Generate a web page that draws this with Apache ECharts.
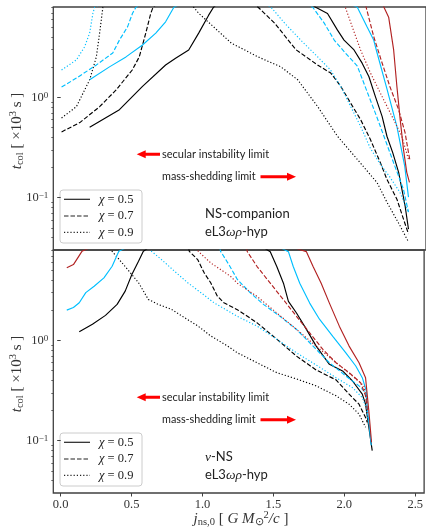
<!DOCTYPE html>
<html><head><meta charset="utf-8">
<script src="https://cdn.jsdelivr.net/npm/echarts@6/dist/echarts.min.js"></script>
<style>html,body{margin:0;padding:0;background:#fff}#c{width:426px;height:528px}</style>
</head><body><div id="c"></div>
<script>
// ---- axis settings ----
const xTicks = [0, 0.5, 1.0, 1.5, 2.0, 2.5];
const yMajor = [0.1, 1];
const yMinor = [0.04,0.05,0.06,0.07,0.08,0.09,0.2,0.3,0.4,0.5,0.6,0.7,0.8,0.9,2,3,4,5,6,7,8];
const X_MIN = -0.052, X_MAX = 2.563, Y_MIN = 0.03, Y_MAX = 8;

// ---- top panel: NS-companion ----
const topBlackSolid  = [[0.203,0.504],[0.412,0.755],[0.574,1.29],[0.736,2.11],[0.806,2.46],[0.898,2.98],[0.968,4.39],[1.038,6.63],[1.072,7.96],[1.4,20],[1.789,7.96],[1.872,6.89],[1.942,4.70],[1.988,3.74],[2.058,2.98],[2.115,2.20],[2.162,1.62],[2.208,1.02],[2.255,0.648],[2.289,0.41],[2.33,0.28],[2.371,0.179],[2.416,0.0834],[2.44,0.0485]];
const topBlackDashed = [[0.006,0.453],[0.134,0.561],[0.273,0.809],[0.389,1.19],[0.502,1.88],[0.551,2.54],[0.597,4.39],[0.632,6.93],[0.648,7.96],[1.0,20],[1.385,7.96],[1.501,5.52],[1.65,3.0],[1.802,2.11],[1.895,1.75],[1.965,1.29],[2.034,0.880],[2.104,0.601],[2.173,0.380],[2.243,0.223],[2.289,0.152],[2.359,0.0964],[2.405,0.061],[2.44,0.0433]];
const topBlackDotted = [[0.006,0.624],[0.11,0.809],[0.203,1.50],[0.25,2.54],[0.273,4.39],[0.296,7.96],[0.6,20],[0.933,7.96],[0.968,6.93],[1.197,3.49],[1.385,2.54],[1.545,2.02],[1.663,1.50],[1.802,0.814],[1.942,0.41],[2.081,0.241],[2.22,0.141],[2.289,0.09],[2.382,0.052],[2.44,0.0361]];
const topCyanSolid   = [[0.203,1.50],[0.342,2.02],[0.458,2.54],[0.574,3.34],[0.667,4.39],[0.736,5.69],[0.794,7.96],[1.4,20],[2.081,7.96],[2.15,5.04],[2.196,3.74],[2.22,2.78],[2.289,1.22],[2.359,0.512],[2.414,0.205],[2.44,0.101]];
const topCyanDashed  = [[0.006,1.27],[0.11,1.56],[0.25,2.11],[0.365,2.78],[0.412,3.74],[0.469,5.07],[0.504,6.93],[0.528,7.96],[1.1,20],[1.768,7.96],[1.849,5.52],[1.919,3.74],[1.997,2.78],[2.081,2.06],[2.15,1.14],[2.22,0.628],[2.289,0.339],[2.345,0.205],[2.405,0.121],[2.44,0.0716]];
const topCyanDotted  = [[0.006,1.88],[0.11,2.37],[0.168,3.21],[0.203,4.39],[0.226,6.93],[0.238,7.96],[0.8,20],[1.476,7.96],[1.571,5.52],[1.684,3.74],[1.802,2.55],[1.893,1.88],[1.965,1.29],[2.034,0.814],[2.104,0.515],[2.173,0.31],[2.243,0.215],[2.31,0.16],[2.38,0.113],[2.44,0.0716]];
const topRedSolid    = [[2.2,20],[2.268,7.96],[2.301,6.33],[2.336,2.98],[2.359,1.28],[2.382,0.601],[2.405,0.303],[2.428,0.179],[2.447,0.142]];
const topRedDashed   = [[2.08,20],[2.143,7.96],[2.197,4.01],[2.255,2.21],[2.31,1.28],[2.371,0.755],[2.416,0.446],[2.44,0.282],[2.449,0.241]];
const topRedDotted   = [[1.93,20],[1.997,7.96],[2.046,5.04],[2.104,2.98],[2.173,1.76],[2.255,1.02],[2.336,0.601],[2.394,0.407],[2.44,0.241]];

// ---- bottom panel: nu-NS ----
const botBlackSolid  = [[0.131,1.22],[0.224,1.45],[0.316,1.78],[0.398,2.29],[0.455,3.11],[0.502,4.55],[0.549,6.17],[0.583,7.76],[1.0,20],[1.478,7.7],[1.524,5.47],[1.571,3.73],[1.606,2.46],[1.663,1.88],[1.733,1.29],[1.802,0.878],[1.895,0.578],[1.988,0.496],[2.058,0.394],[2.127,0.291],[2.15,0.231],[2.173,0.136],[2.197,0.0796]];
const botBlackDashed = [[0.85,20],[0.907,7.76],[0.966,6.42],[1.012,4.73],[1.058,3.77],[1.105,2.77],[1.151,2.38],[1.246,2.03],[1.385,1.50],[1.524,1.03],[1.663,0.698],[1.802,0.507],[1.942,0.404],[2.034,0.291],[2.104,0.231],[2.15,0.170],[2.162,0.152]];
const botBlackDotted = [[0.3,20],[0.363,7.76],[0.433,5.95],[0.502,4.55],[0.549,3.77],[0.618,2.57],[0.688,2.29],[0.78,2.05],[0.873,1.69],[0.966,1.40],[1.058,1.11],[1.175,0.884],[1.246,0.753],[1.385,0.599],[1.524,0.477],[1.663,0.413],[1.802,0.352],[1.942,0.280],[2.034,0.231],[2.104,0.184],[2.15,0.136]];
const botCyanSolid   = [[0.043,2.01],[0.09,2.13],[0.131,2.38],[0.177,3.00],[0.236,3.48],[0.305,4.22],[0.363,5.51],[0.41,7.76],[1.0,20],[1.606,7.7],[1.64,5.47],[1.686,3.73],[1.756,2.36],[1.825,1.63],[1.919,1.10],[2.011,0.753],[2.081,0.556],[2.127,0.425],[2.155,0.314],[2.162,0.214],[2.19,0.09]];
const botCyanDashed  = [[1.06,20],[1.128,7.76],[1.19,5.6],[1.246,4.06],[1.339,2.97],[1.432,2.28],[1.547,1.74],[1.663,1.29],[1.78,0.878],[1.895,0.599],[2.011,0.442],[2.104,0.352],[2.15,0.302],[2.164,0.2]];
const botCyanDotted  = [[0.58,20],[0.641,7.76],[0.711,6.42],[0.803,4.91],[0.896,3.77],[0.989,3.00],[1.081,2.38],[1.246,1.74],[1.385,1.39],[1.524,1.03],[1.663,0.753],[1.802,0.568],[1.942,0.425],[2.058,0.338],[2.127,0.269],[2.155,0.214],[2.168,0.158]];
const botRedSolid    = [[0.043,5.31],[0.09,5.72],[0.15,7.76],[0.8,20],[1.733,7.7],[1.78,5.47],[1.837,3.73],[1.895,2.36],[1.965,1.39],[2.034,0.878],[2.104,0.599],[2.15,0.425],[2.173,0.199],[2.192,0.0962]];
const botRedDashed   = [[1.25,20],[1.316,7.7],[1.385,5.47],[1.478,3.73],[1.571,2.55],[1.663,1.74],[1.756,1.19],[1.849,0.814],[1.942,0.599],[2.034,0.477],[2.115,0.379],[2.15,0.280],[2.165,0.19]];
const botRedDotted   = [[0.9,20],[0.97,7.76],[1.058,5.95],[1.197,4.38],[1.246,3.73],[1.385,2.75],[1.524,1.88],[1.663,1.29],[1.802,0.878],[1.942,0.599],[2.058,0.442],[2.138,0.352],[2.162,0.240]];

const BLACK = '#000000', CYAN = '#00bfff', RED = '#b22222';
const DASH = [4.5, 2], DOT = [1.2, 2];

function line(data, color, type, panel) {
  return {
    type: 'line', data: data, xAxisIndex: panel, yAxisIndex: panel * 2,
    showSymbol: false, symbol: 'none', silent: true, clip: true,
    lineStyle: { color: color, width: 1.15, type: type }
  };
}

const series = [
  line(topBlackSolid, BLACK, 'solid', 0), line(topBlackDashed, BLACK, DASH, 0), line(topBlackDotted, BLACK, DOT, 0),
  line(topCyanSolid, CYAN, 'solid', 0), line(topCyanDashed, CYAN, DASH, 0), line(topCyanDotted, CYAN, DOT, 0),
  line(topRedSolid, RED, 'solid', 0), line(topRedDashed, RED, DASH, 0), line(topRedDotted, RED, DOT, 0),
  line(botBlackSolid, BLACK, 'solid', 1), line(botBlackDashed, BLACK, DASH, 1), line(botBlackDotted, BLACK, DOT, 1),
  line(botCyanSolid, CYAN, 'solid', 1), line(botCyanDashed, CYAN, DASH, 1), line(botCyanDotted, CYAN, DOT, 1),
  line(botRedSolid, RED, 'solid', 1), line(botRedDashed, RED, DASH, 1), line(botRedDotted, RED, DOT, 1)
];

const AX = '#404040';
const SERIF = 'Liberation Serif';
const SANS = 'Lato';
const GL = 53.3, GW = 376, GH = 243, GT = [7, 250];

function xAxisFor(i) {
  return {
    gridIndex: i, type: 'value', min: X_MIN, max: X_MAX,
    axisLine: { show: false }, splitLine: { show: false },
    axisTick: { show: i === 1, customValues: xTicks, length: 3.5, lineStyle: { color: AX, width: 1 } },
    axisLabel: { show: i === 1, customValues: xTicks, formatter: v => v.toFixed(1), fontFamily: SERIF, fontSize: 12.5, color: '#333', margin: 5 }
  };
}
function yAxesFor(i) {
  return [{
    gridIndex: i, type: 'log', logBase: 10, min: Y_MIN, max: Y_MAX,
    axisLine: { show: false }, splitLine: { show: false }, minorTick: { show: false },
    axisTick: { show: true, customValues: yMajor, length: 3.5, lineStyle: { color: AX, width: 1 } },
    axisLabel: {
      customValues: yMajor, margin: 5, color: '#333',
      formatter: v => (Math.round(Math.log10(v)) === 0 ? '{b|10}{e|0}' : '{b|10}{e|−1}'),
      rich: {
        b: { fontFamily: SERIF, fontSize: 12.5, lineHeight: 13, verticalAlign: 'bottom', color: '#333' },
        e: { fontFamily: SERIF, fontSize: 9, lineHeight: 9, verticalAlign: 'top', padding: [0, 0, 8, 0], color: '#333' }
      }
    }
  }, {
    gridIndex: i, type: 'log', logBase: 10, min: Y_MIN, max: Y_MAX, position: 'left',
    axisLine: { show: false }, splitLine: { show: false }, axisLabel: { show: false },
    axisTick: { show: true, customValues: yMinor, length: 2, lineStyle: { color: AX, width: 0.8 } }
  }];
}

const mathRich = {
  it: { fontFamily: SERIF, fontStyle: 'italic', fontSize: 15, lineHeight: 18, verticalAlign: 'middle', fill: '#333' },
  n: { fontFamily: SERIF, fontSize: 15, lineHeight: 18, verticalAlign: 'middle', fill: '#333' },
  sub: { fontFamily: SERIF, fontSize: 10.5, lineHeight: 10, verticalAlign: 'bottom', fill: '#333' },
  sup: { fontFamily: SERIF, fontSize: 10.5, lineHeight: 10, verticalAlign: 'top', fill: '#333' }
};

const graphic = [];
function ytitle(cy) {
  graphic.push({
    type: 'text', x: 17, y: cy, rotation: Math.PI / 2,
    style: { text: '{it|t}{sub|col}{n| [ ×10}{sup|3}{n| s ]}', align: 'center', verticalAlign: 'middle', fill: '#333', rich: mathRich }
  });
}
function arrowL(tipX, tailX, y) {
  graphic.push({ type: 'polygon', shape: { points: [[tailX, y - 1.5], [tipX + 9, y - 1.5], [tipX + 9, y - 4], [tipX, y], [tipX + 9, y + 4], [tipX + 9, y + 1.5], [tailX, y + 1.5]] }, style: { fill: '#ff0000' } });
}
function arrowR(tailX, tipX, y) {
  graphic.push({ type: 'polygon', shape: { points: [[tailX, y - 1.5], [tipX - 9, y - 1.5], [tipX - 9, y - 4], [tipX, y], [tipX - 9, y + 4], [tipX - 9, y + 1.5], [tailX, y + 1.5]] }, style: { fill: '#ff0000' } });
}
function txt(x, y, s, font, size, align) {
  graphic.push({ type: 'text', x: x, y: y, style: { text: s, fontFamily: font, fontSize: size, fill: '#222', align: align || 'left', verticalAlign: 'middle' } });
}
function richTxt(x, y, s, rich) {
  graphic.push({ type: 'text', x: x, y: y, style: { text: s, rich: rich, align: 'left', verticalAlign: 'middle', fill: '#222' } });
}
const labelRich = {
  s: { fontFamily: SANS, fontSize: 13, fill: '#222', lineHeight: 16 },
  m: { fontFamily: SERIF, fontStyle: 'italic', fontSize: 13.5, fill: '#222', lineHeight: 16 }
};
function legend(off) {
  graphic.push({ type: 'rect', shape: { x: 60, y: 190 + off, width: 82, height: 53, r: 3 }, style: { fill: 'rgba(255,255,255,0.85)', stroke: '#cccccc', lineWidth: 1 } });
  const rows = [[199.3, null, '0.5'], [216, DASH, '0.7'], [232.3, DOT, '0.9']];
  rows.forEach(r => {
    graphic.push({ type: 'line', shape: { x1: 64, y1: r[0] + off, x2: 90, y2: r[0] + off }, style: { stroke: '#222', lineWidth: 1.2, lineDash: r[1] } });
    richTxt(99, r[0] + off, '{m|χ}{n| = ' + r[2] + '}', {
      m: { fontFamily: SERIF, fontStyle: 'italic', fontSize: 12.5, fill: '#222' },
      n: { fontFamily: SERIF, fontSize: 12.5, fill: '#222' }
    });
  });
}
[0, 243].forEach((off, i) => {
  ytitle(i === 0 ? 131 : 374);
  arrowL(136.7, 160, 154.3 + off);
  txt(162, 154.3 + off, 'secular instability limit', SANS, 11);
  txt(162, 176.7 + off, 'mass-shedding limit', SANS, 10.8);
  arrowR(260.5, 296, 176.7 + off);
  legend(off);
});
richTxt(205, 214, '{s|NS-companion}', labelRich);
richTxt(205, 232, '{s|eL3}{m|ωρ}{s|-hyp}', labelRich);
richTxt(205, 457, '{m|ν}{s|-NS}', labelRich);
richTxt(205, 475, '{s|eL3}{m|ωρ}{s|-hyp}', labelRich);
graphic.push({
  type: 'text', x: 241, y: 519,
  style: { text: '{it|j}{sub|ns,0}{n| [ }{it|G M}{sub|⊙}{sup|2}{it|/c}{n| ]}', align: 'center', verticalAlign: 'middle', fill: '#333', rich: mathRich }
});

const chart = echarts.init(document.getElementById('c'), null, { renderer: 'canvas' });
chart.setOption({
  animation: false,
  backgroundColor: '#fff',
  grid: GT.map(t => ({ left: GL, top: t, width: GW, height: GH, show: true, borderColor: AX, borderWidth: 1.3, backgroundColor: 'transparent' })),
  xAxis: [xAxisFor(0), xAxisFor(1)],
  yAxis: yAxesFor(0).concat(yAxesFor(1)),
  series: series,
  graphic: graphic
});
</script></body></html>
